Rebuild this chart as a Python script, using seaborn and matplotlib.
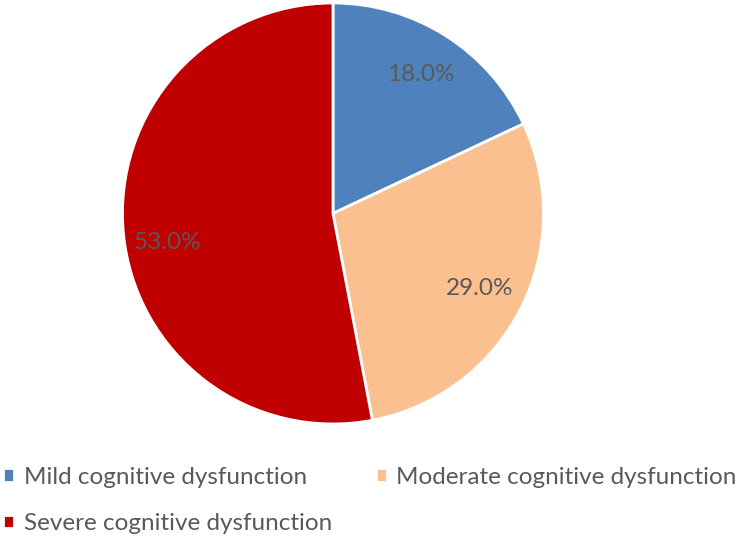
import matplotlib
matplotlib.use('Agg')
import matplotlib.pyplot as plt
import seaborn as sns

# Data
categories = ['Mild cognitive dysfunction', 'Moderate cognitive dysfunction', 'Severe cognitive dysfunction']
shares = [18.0, 29.0, 53.0]
colors = ['#4F81BD', '#FAC090', '#C00000']

sns.set_theme(style='white')
plt.rcParams['font.family'] = ['Lato', 'DejaVu Sans']

fig = plt.figure(figsize=(7.45, 5.41), dpi=100)
ax = fig.add_axes([0.1644, 0.2163, 0.5651, 0.7782])

wedges, texts, autotexts = ax.pie(
    shares, colors=colors, startangle=90, counterclock=False,
    autopct='%1.1f%%', pctdistance=0.78,
    wedgeprops={'edgecolor': 'white', 'linewidth': 2},
    textprops={'fontsize': 17.5, 'color': '#595959'})
# the big slice's label sits a little lower in the original
autotexts[2].set_position((-0.784, -0.14))
ax.set_xlim(-1, 1)
ax.set_ylim(-1, 1)
ax.set_aspect('equal')

# legend filled row by row: Mild, Moderate / Severe
order = [0, 2, 1]
fig.legend([wedges[i] for i in order], [categories[i] for i in order],
           loc='center left', bbox_to_anchor=(0.004, 0.075),
           ncol=2, frameon=False, fontsize=17.5, labelcolor='#595959',
           handlelength=0.45, handleheight=0.45, handletextpad=0.4,
           columnspacing=1.8, labelspacing=1.05, borderpad=0, borderaxespad=0)

fig.savefig('out.png', dpi=100)
